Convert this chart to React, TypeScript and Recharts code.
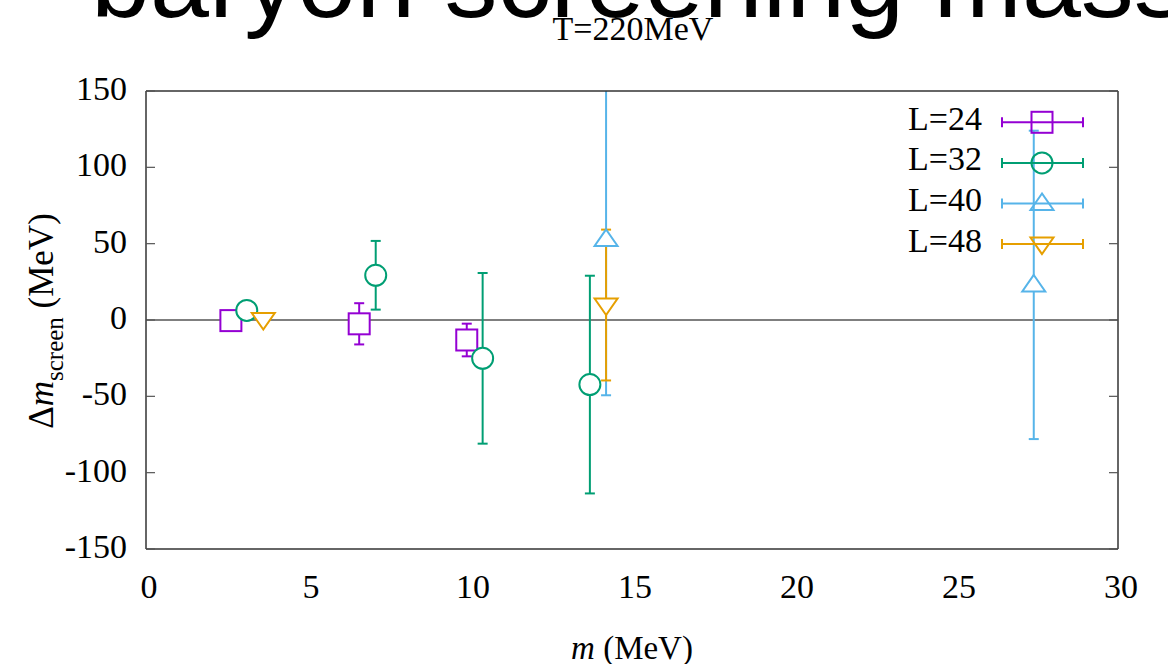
import React from 'react';
import { ScatterChart, Scatter, XAxis, YAxis, ErrorBar, ReferenceLine } from 'recharts';

// ---------- data ----------
const xTicks = [0, 5, 10, 15, 20, 25, 30];
const yTicks = [-150, -100, -50, 0, 50, 100, 150];

const L24_m = [2.62, 6.58, 9.9];
const L24_d = [-0.4, -2.5, -13.1];
const L24_e = [0.8, 13.5, 10.7];

const L32_m = [3.11, 7.09, 10.39, 13.7];
const L32_d = [6.3, 29.3, -25.1, -42.3];
const L32_e = [5.4, 22.5, 55.9, 71.3];

const L40_m = [14.2, 27.4];
const L40_d = [52.8, 23.0];
const L40_e = [102.1, 101.0];

const L48_m = [3.62, 14.2];
const L48_d = [0.3, 9.8];
const L48_e = [2.0, 49.4];

const seriesNames = ['L=24', 'L=32', 'L=40', 'L=48'];
const seriesColors = ['#9400d3', '#009e73', '#56b4e9', '#e69f00'];
const seriesShapes = ['square', 'circle', 'up', 'down'];

const build = (m: number[], d: number[], e: number[]) =>
  m.map((x, i) => ({ x, y: d[i], err: e[i] }));

const seriesData = [
  build(L24_m, L24_d, L24_e),
  build(L32_m, L32_d, L32_e),
  build(L40_m, L40_d, L40_e),
  build(L48_m, L48_d, L48_e),
];

// ---------- layout ----------
const W = 1168;
const H = 664;
const M_TOP = 91;
const M_RIGHT = 50;
const Y_AXIS_W = 146;
const X_AXIS_H = 60;
const M_BOTTOM = 55;
const PLOT = {
  x: Y_AXIS_W,
  y: M_TOP,
  w: W - Y_AXIS_W - M_RIGHT,
  h: H - M_TOP - M_BOTTOM - X_AXIS_H,
};

// ---------- styles ----------
const SERIF = '"Liberation Serif", "Times New Roman", serif';
const SANS = '"Liberation Sans", Arial, sans-serif';
const FRAME = '#333';
const TICKC = '#555';

const Marker = ({ kind, cx, cy, color, fill }: any) => {
  const sw = 2;
  if (kind === 'square')
    return <rect x={cx - 10.5} y={cy - 10.5} width={21} height={21} fill={fill} stroke={color} strokeWidth={sw} />;
  if (kind === 'circle') return <circle cx={cx} cy={cy} r={10.5} fill={fill} stroke={color} strokeWidth={sw} />;
  if (kind === 'up')
    return (
      <polygon
        points={`${cx},${cy - 10} ${cx - 11.5},${cy + 6.5} ${cx + 11.5},${cy + 6.5}`}
        fill={fill}
        stroke={color}
        strokeWidth={sw}
      />
    );
  return (
    <polygon
      points={`${cx},${cy + 10} ${cx - 11.5},${cy - 6.5} ${cx + 11.5},${cy - 6.5}`}
      fill={fill}
      stroke={color}
      strokeWidth={sw}
    />
  );
};

const XTick = ({ x, y, payload }: any) => (
  <text x={x + 3} y={y} dy={24} textAnchor="middle" fontFamily={SERIF} fontSize={34} fill="#000">
    {payload.value}
  </text>
);

const YTick = ({ x, y, payload }: any) => (
  <text x={x} y={y} dy={9} textAnchor="end" fontFamily={SERIF} fontSize={34} fill="#000">
    {payload.value}
  </text>
);

const NoTick = () => <g />;

const Overlay = () => {
  const rowY = (i: number) => 122.3 + i * 40.6;
  return (
    <svg width={W} height={H} style={{ position: 'absolute', left: 0, top: 0, pointerEvents: 'none' }}>
      <defs>
        <clipPath id="plotAreaClip" clipPathUnits="userSpaceOnUse">
          <rect x={PLOT.x} y={PLOT.y} width={PLOT.w} height={PLOT.h} />
        </clipPath>
      </defs>
      <text x={91} y={17} fontFamily={SANS} fontSize={106} fill="#000">
        baryon screening mass
      </text>
      <text x={633} y={40} textAnchor="middle" fontFamily={SERIF} fontSize={34} fill="#000">
        T=220MeV
      </text>
      <g transform="translate(53,321) rotate(-90)">
        <text x={0} y={0} textAnchor="middle" fontFamily={SERIF} fontSize={35} fill="#000">
          <tspan>Δ</tspan>
          <tspan fontStyle="italic">m</tspan>
          <tspan fontSize={25} dy={10}>screen</tspan>
          <tspan dy={-10}>{' (MeV)'}</tspan>
        </text>
      </g>
      <text x={632} y={659} textAnchor="middle" fontFamily={SERIF} fontSize={33} fill="#000">
        <tspan fontStyle="italic">m</tspan>
        <tspan>{' (MeV)'}</tspan>
      </text>
      {seriesNames.map((name, i) => {
        const y = rowY(i);
        const c = seriesColors[i];
        return (
          <g key={name}>
            <text x={982} y={y + 7.5} textAnchor="end" fontFamily={SERIF} fontSize={34} fill="#000">
              {name}
            </text>
            <line x1={1002} x2={1083} y1={y} y2={y} stroke={c} strokeWidth={2} />
            <line x1={1002} x2={1002} y1={y - 5} y2={y + 5} stroke={c} strokeWidth={2} />
            <line x1={1083} x2={1083} y1={y - 5} y2={y + 5} stroke={c} strokeWidth={2} />
            <Marker kind={seriesShapes[i]} cx={1042} cy={y} color={c} fill="none" />
          </g>
        );
      })}
    </svg>
  );
};

export default function App() {
  return (
    <div style={{ position: 'absolute', left: 0, top: 0, width: W, height: H, background: '#fff', overflow: 'hidden' }}>
      <style>{`.recharts-errorBars, .recharts-errorBar, .recharts-scatter { clip-path: url(#plotAreaClip); }`}</style>
      <ScatterChart width={W} height={H} margin={{ top: M_TOP, right: M_RIGHT, bottom: M_BOTTOM, left: 0 }}>
        <XAxis
          xAxisId={0}
          type="number"
          dataKey="x"
          domain={[0, 30]}
          ticks={xTicks}
          interval={0}
          height={X_AXIS_H}
          tickSize={0}
          tickMargin={25}
          tickLine={false}
          axisLine={{ stroke: FRAME, strokeWidth: 1.5 }}
          tick={<XTick />}
          allowDataOverflow
        />
        <XAxis
          xAxisId="bm"
          type="number"
          orientation="bottom"
          mirror
          domain={[0, 30]}
          ticks={xTicks}
          interval={0}
          tickSize={9}
          axisLine={false}
          tickLine={{ stroke: TICKC, strokeWidth: 1.2 }}
          tick={<NoTick />}
          allowDataOverflow
        />
        <XAxis
          xAxisId="top"
          type="number"
          orientation="top"
          mirror
          domain={[0, 30]}
          ticks={xTicks}
          interval={0}
          tickSize={9}
          axisLine={{ stroke: FRAME, strokeWidth: 1.5 }}
          tickLine={{ stroke: TICKC, strokeWidth: 1.2 }}
          tick={<NoTick />}
          allowDataOverflow
        />
        <YAxis
          yAxisId={0}
          type="number"
          dataKey="y"
          domain={[-150, 150]}
          ticks={yTicks}
          interval={0}
          width={Y_AXIS_W}
          tickSize={0}
          tickMargin={19}
          tickLine={false}
          axisLine={{ stroke: FRAME, strokeWidth: 1.5 }}
          tick={<YTick />}
          allowDataOverflow
        />
        <YAxis
          yAxisId="lm"
          type="number"
          orientation="left"
          mirror
          domain={[-150, 150]}
          ticks={yTicks}
          interval={0}
          tickSize={9}
          axisLine={false}
          tickLine={{ stroke: TICKC, strokeWidth: 1.2 }}
          tick={<NoTick />}
          allowDataOverflow
        />
        <YAxis
          yAxisId="right"
          type="number"
          orientation="right"
          mirror
          domain={[-150, 150]}
          ticks={yTicks}
          interval={0}
          tickSize={9}
          axisLine={{ stroke: FRAME, strokeWidth: 1.5 }}
          tickLine={{ stroke: TICKC, strokeWidth: 1.2 }}
          tick={<NoTick />}
          allowDataOverflow
        />
        <ReferenceLine y={0} xAxisId={0} yAxisId={0} stroke="#000" strokeWidth={1.2} />
        {seriesData.map((data, i) => (
          <Scatter
            key={seriesNames[i]}
            name={seriesNames[i]}
            data={data}
            xAxisId={0}
            yAxisId={0}
            isAnimationActive={false}
            shape={(p: any) => (
              <Marker kind={seriesShapes[i]} cx={p.cx} cy={p.cy} color={seriesColors[i]} fill="#fff" />
            )}
          >
            <ErrorBar
              dataKey="err"
              direction="y"
              width={5}
              stroke={seriesColors[i]}
              strokeWidth={2}
              isAnimationActive={false}
            />
          </Scatter>
        ))}
      </ScatterChart>
      <Overlay />
    </div>
  );
}
